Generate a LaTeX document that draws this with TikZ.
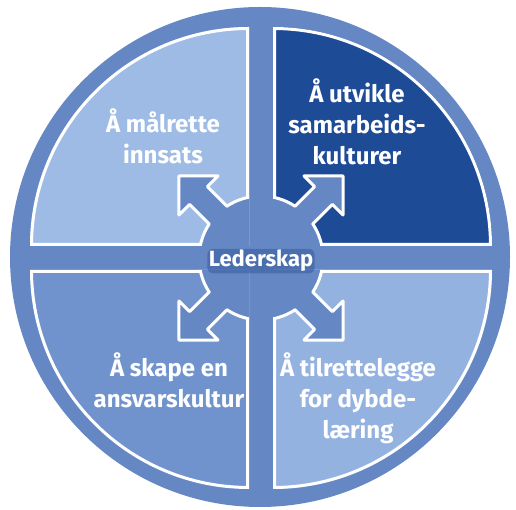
\documentclass[tikz,border=0pt]{standalone}
\usepackage{fontspec}
\setmainfont{Fira Sans}
\definecolor{RingBlue}{RGB}{101,136,197}
\definecolor{PaleBlue}{RGB}{158,187,230}
\definecolor{NavyBlue}{RGB}{30,75,150}
\definecolor{MidBlue}{RGB}{112,147,205}
\definecolor{SoftBlue}{RGB}{148,178,224}
\definecolor{GlowBlue}{RGB}{45,80,148}
\tikzset{
  quadline/.style={draw=white,line width=6pt},
  hubline/.style={fill=RingBlue,draw=white,line width=3pt,line join=round},
  quadlabel/.style={text=white,font=\bfseries\fontsize{24}{31}\selectfont,align=center,anchor=base},
  hublabel/.style={text=white,font=\bfseries\fontsize{22}{24}\selectfont,anchor=base,fill=GlowBlue,fill opacity=.45,text opacity=1,rounded corners=6pt,inner sep=1.5pt}
}
\begin{document}
\begin{tikzpicture}[x=1pt,y=1pt]
  \useasboundingbox (-261,-252) rectangle (255,258);
  \fill[RingBlue] (-1,1) circle[radius=250];
  % quadrants, each with the hub cut out
  \foreach \sx/\sy/\a/\col in {-1/1/90/PaleBlue,1/1/0/NavyBlue,-1/-1/180/MidBlue,1/-1/270/SoftBlue}{
    \begin{scope}
      \clip ({\sx*12},{\sy*12}) -- ++(\a:219) arc[start angle=\a,end angle=\a+90,radius=219] -- cycle;
      \fill[\col] (-260,-260) rectangle (260,260);
      \draw[quadline] ({\sx*12},{\sy*12}) -- ++(\a:219) arc[start angle=\a,end angle=\a+90,radius=219] -- cycle;
      \draw[hubline] (33.4:62) \foreach \b in {45,135,225,315}{
        -- ([rotate=\b]60.7,-12.5) -- ([rotate=\b]88.4,-12.5) -- ([rotate=\b]88.4,-27.6)
        -- ([rotate=\b]116,0) -- ([rotate=\b]88.4,27.6) -- ([rotate=\b]88.4,12.5)
        -- ([rotate=\b]60.7,12.5) arc[start angle=\b+11.6,end angle=\b+78.4,radius=62]} -- cycle;
    \end{scope}
  }
  \node[quadlabel] (malrette) at (-98,94) {Å målrette\\innsats};
  \node[quadlabel] (samarbeid) at (96,93) {Å utvikle\\samarbeids-\\kulturer};
  \node[quadlabel] (ansvar) at (-92,-150) {Å skape en\\ansvarskultur};
  \node[quadlabel] (dybde) at (97,-181) {Å tilrettelegge\\for dybde-\\læring};
  \node[hublabel] (leder) at (0,-9) {Lederskap};
\end{tikzpicture}
\end{document}
